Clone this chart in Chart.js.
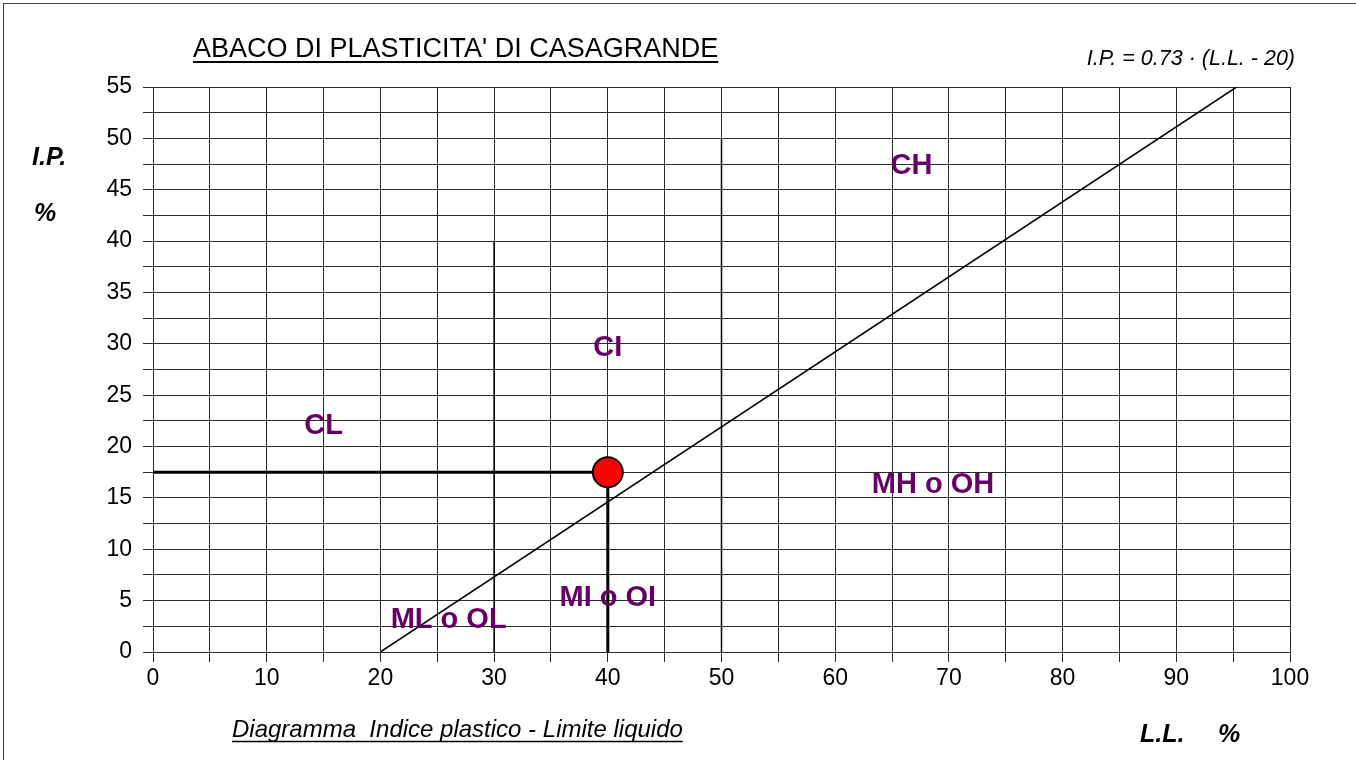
<!DOCTYPE html>
<html>
<head>
<meta charset="utf-8">
<title>Abaco di plasticita' di Casagrande</title>
<script src="https://cdn.jsdelivr.net/npm/chart.js@4.4.1/dist/chart.umd.min.js"></script>
<style>
  html, body { margin: 0; padding: 0; background: #fff; }
  #wrap { position: relative; width: 1356px; height: 760px; overflow: hidden; }
  #frame { position: absolute; left: 3px; top: 3px; width: 1400px; height: 800px; border: 1.5px solid #444; }
  #chart { position: absolute; left: 0; top: 0; }
</style>
</head>
<body>
<div id="wrap">
  <div id="frame"></div>
  <canvas id="chart" width="1356" height="760"></canvas>
</div>
<script>
// ---- data ----
const aLineLL = [20, 95.3];   // linea A: I.P. = 0.73 (L.L. - 20)
const aLineIP = [0, 55];
const boundLow = [30, 30];    // limite L.L. = 30
const boundLowIP = [0, 40];
const boundHigh = [50, 50];   // limite L.L. = 50
const boundHighIP = [0, 50];
const sampleLL = 40;          // campione
const sampleIP = 17.5;

const zoneNames = ['CL', 'CI', 'CH', 'MH o OH', 'MI o OI', 'ML o OL'];
const zoneLL = [15, 40, 66.7, 68.6, 40, 26];
const zoneIP = [22, 29.6, 47.3, 16.3, 5.3, 3.1];

const FONT = '"Liberation Sans", Arial, Helvetica, sans-serif';

function pts(xs, ys) {
  return xs.map((x, i) => ({ x: x, y: ys[i] }));
}

const lineDs = (data, width) => ({
  data: data,
  showLine: true,
  borderColor: '#000',
  borderWidth: width,
  pointRadius: 0,
  fill: false,
  order: 1
});

// zone labels + titles drawn on top of the plot
const textPlugin = {
  id: 'casagrandeText',
  afterDatasetsDraw(chart) {
    const ctx = chart.ctx;
    const xs = chart.scales.x, ys = chart.scales.y;
    ctx.save();
    ctx.fillStyle = '#660066';
    ctx.font = 'bold 29px ' + FONT;
    ctx.textAlign = 'center';
    ctx.textBaseline = 'middle';
    zoneNames.forEach((n, i) => {
      ctx.fillText(n, xs.getPixelForValue(zoneLL[i]), ys.getPixelForValue(zoneIP[i]));
    });
    ctx.restore();
  },
  afterDraw(chart) {
    const ctx = chart.ctx;
    ctx.save();
    ctx.fillStyle = '#000';
    ctx.strokeStyle = '#000';
    ctx.textBaseline = 'alphabetic';

    // title
    ctx.textAlign = 'left';
    ctx.font = '27px ' + FONT;
    const title = "ABACO DI PLASTICITA' DI CASAGRANDE";
    ctx.fillText(title, 193, 57);
    let w = ctx.measureText(title).width;
    ctx.lineWidth = 2;
    ctx.beginPath(); ctx.moveTo(193, 62); ctx.lineTo(193 + w, 62); ctx.stroke();

    // formula
    ctx.textAlign = 'right';
    ctx.font = 'italic 21.5px ' + FONT;
    ctx.fillText('I.P. = 0.73 \u00b7 (L.L. - 20)', 1295, 65);

    // y axis title
    ctx.textAlign = 'left';
    ctx.font = 'bold italic 25px ' + FONT;
    ctx.fillText('I.P.', 32, 165);
    ctx.fillText('%', 34, 221);

    // x axis title
    ctx.fillText('L.L.', 1140, 742);
    ctx.fillText('%', 1218, 742);

    // subtitle
    ctx.font = 'italic 24px ' + FONT;
    const sub = 'Diagramma  Indice plastico - Limite liquido';
    ctx.fillText(sub, 232, 737);
    w = ctx.measureText(sub).width;
    ctx.lineWidth = 1.5;
    ctx.beginPath(); ctx.moveTo(232, 741.5); ctx.lineTo(232 + w, 741.5); ctx.stroke();
    ctx.restore();
  }
};

new Chart(document.getElementById('chart').getContext('2d'), {
  type: 'scatter',
  data: {
    datasets: [
      {
        data: [{ x: sampleLL, y: sampleIP }],
        pointRadius: 15,
        pointBackgroundColor: '#ff0000',
        pointBorderColor: '#000',
        pointBorderWidth: 2,
        order: 0
      },
      lineDs(pts([0, sampleLL], [sampleIP, sampleIP]), 3),
      lineDs(pts([sampleLL, sampleLL], [sampleIP, 0]), 3),
      lineDs(pts(aLineLL, aLineIP), 1.5),
      lineDs(pts(boundLow, boundLowIP), 1.5),
      lineDs(pts(boundHigh, boundHighIP), 1.5)
    ]
  },
  options: {
    responsive: false,
    animation: false,
    layout: { padding: { left: 0, top: 87, right: 66, bottom: 0 } },
    plugins: {
      legend: { display: false },
      tooltip: { enabled: false }
    },
    scales: {
      x: {
        type: 'linear',
        min: 0,
        max: 100,
        afterFit: s => { s.height = 108; },
        border: { display: false },
        grid: { color: '#2a2a2a', lineWidth: 1, tickLength: 10 },
        ticks: {
          stepSize: 5,
          autoSkip: false,
          maxRotation: 0,
          padding: 3,
          color: '#000',
          font: { family: FONT, size: 23 },
          callback: v => (v % 10 === 0 ? v : '')
        }
      },
      y: {
        type: 'linear',
        min: 0,
        max: 55,
        afterFit: s => { s.width = 153; },
        border: { display: false },
        grid: { color: '#2a2a2a', lineWidth: 1, tickLength: 10 },
        ticks: {
          stepSize: 2.5,
          autoSkip: false,
          padding: 11,
          color: '#000',
          font: { family: FONT, size: 23 },
          callback: v => (v % 5 === 0 ? v : '')
        }
      }
    }
  },
  plugins: [textPlugin]
});
</script>
</body>
</html>
